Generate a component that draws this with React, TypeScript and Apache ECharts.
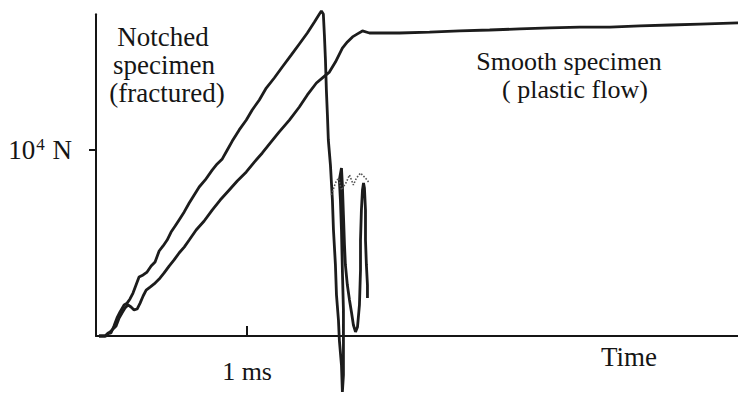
import React, { useEffect, useRef } from "react";
import * as echarts from "echarts";

// Time in ms, force in units of 10^4 N
const notchedTime = [
  0.02, 0.04, 0.06, 0.08, 0.099, 0.119, 0.139, 0.159, 0.186, 0.206, 0.225, 0.245, 0.265, 0.285,
  0.312, 0.338, 0.365, 0.391, 0.418, 0.444, 0.471, 0.497, 0.524, 0.55, 0.584, 0.617, 0.65, 0.683,
  0.723, 0.769, 0.802, 0.836, 0.869, 0.902, 0.948, 0.995, 1.034, 1.081, 1.127, 1.18, 1.233, 1.293,
  1.346, 1.399, 1.446, 1.479, 1.492, 1.505, 1.512, 1.519, 1.525, 1.532, 1.538, 1.552, 1.565, 1.572,
  1.585, 1.592, 1.605, 1.611, 1.625, 1.631, 1.638, 1.638, 1.638, 1.631, 1.625, 1.618, 1.611, 1.625,
  1.631, 1.638, 1.645, 1.651, 1.664, 1.678, 1.691, 1.704, 1.718, 1.731, 1.744, 1.751, 1.751, 1.757,
  1.764, 1.771, 1.777, 1.784, 1.784, 1.79, 1.797, 1.797,
];
const notchedForce = [
  0, 0, 0, 0.016, 0.016, 0.054, 0.097, 0.129, 0.167, 0.177, 0.199, 0.231, 0.274, 0.317,
  0.328, 0.344, 0.376, 0.398, 0.457, 0.484, 0.516, 0.559, 0.591, 0.624, 0.667, 0.715, 0.758, 0.801,
  0.839, 0.892, 0.925, 0.952, 1.0, 1.048, 1.108, 1.161, 1.215, 1.269, 1.333, 1.387, 1.446, 1.511,
  1.57, 1.629, 1.688, 1.731, 1.747, 1.731, 1.618, 1.484, 1.323, 1.188, 1.054, 0.919, 0.731, 0.57,
  0.382, 0.22, 0.086, -0.022, -0.156, -0.301, -0.21, -0.048, 0.14, 0.355, 0.57, 0.731, 0.839, 0.903,
  0.812, 0.651, 0.489, 0.382, 0.274, 0.194, 0.129, 0.059, 0.022, 0.048, 0.167, 0.355, 0.516, 0.677,
  0.785, 0.823, 0.796, 0.677, 0.516, 0.382, 0.274, 0.204,
];

const smoothTime = [
  0.02, 0.046, 0.066, 0.086, 0.106, 0.133, 0.153, 0.172, 0.192, 0.212, 0.232, 0.252, 0.272, 0.292,
  0.312, 0.332, 0.358, 0.385, 0.418, 0.451, 0.484, 0.517, 0.55, 0.584, 0.617, 0.663, 0.716, 0.769,
  0.822, 0.882, 0.935, 0.995, 1.048, 1.101, 1.154, 1.213, 1.28, 1.346, 1.399, 1.459, 1.505, 1.545,
  1.585, 1.631, 1.664, 1.698, 1.731, 1.764, 1.81, 1.857, 2.009, 2.208, 2.407, 2.606, 2.805, 3.004,
  3.203, 3.402, 3.601, 3.8, 3.999, 4.25,
];
const smoothForce = [
  0, 0, 0, 0.016, 0.032, 0.054, 0.097, 0.124, 0.151, 0.167, 0.156, 0.14, 0.145, 0.177,
  0.215, 0.247, 0.263, 0.28, 0.306, 0.339, 0.376, 0.409, 0.446, 0.478, 0.516, 0.57, 0.618, 0.677,
  0.731, 0.785, 0.833, 0.882, 0.935, 0.984, 1.038, 1.097, 1.161, 1.231, 1.296, 1.36, 1.392, 1.419,
  1.473, 1.548, 1.581, 1.608, 1.624, 1.64, 1.629, 1.629, 1.629, 1.634, 1.64, 1.645, 1.651, 1.656,
  1.661, 1.661, 1.667, 1.672, 1.677, 1.683,
];

// faint dotted trace during the post-fracture ringing
const ringTime = [1.558, 1.585, 1.605, 1.625, 1.658, 1.678, 1.704, 1.724, 1.751, 1.784, 1.804];
const ringForce = [0.758, 0.823, 0.849, 0.785, 0.828, 0.866, 0.812, 0.849, 0.876, 0.849, 0.828];

const xTickValues = [1];
const yTickValues = [1];
const xTickLabel = "1 ms";
const notchedNote = ["Notched", "specimen", "(fractured)"];
const smoothNote = ["Smooth specimen", "( plastic flow)"];
const xAxisName = "Time";

const FONT = "'Liberation Serif', 'Times New Roman', serif";
const INK = "#151515";

const zip = (a: number[], b: number[]) => a.map((v, i) => [v, b[i]]);

// centred text line: x = centre, y = vertical centre
const note = (text: string, x: number, y: number, size: number) => ({
  text,
  left: x,
  top: y - 13,
  textAlign: "center",
  padding: 0,
  itemGap: 0,
  textStyle: {
    fontFamily: FONT,
    fontSize: size,
    fontWeight: "normal",
    color: INK,
    lineHeight: 26,
  },
});

export default function App() {
  const ref = useRef<HTMLDivElement>(null);
  useEffect(() => {
    document.body.style.margin = "0";
    if (!ref.current) return;
    const chart = echarts.init(ref.current, null, { renderer: "svg" });
    chart.setOption({
      animation: false,
      backgroundColor: "#ffffff",
      title: [
        note(notchedNote[0], 163, 37, 27),
        note(notchedNote[1], 164, 65, 27),
        note(notchedNote[2], 167, 93, 27),
        note(smoothNote[0], 569, 61, 26),
        note(smoothNote[1], 575, 89, 26),
        note(xAxisName, 629, 357, 27),
      ],
      grid: {
        left: 96,
        right: 0,
        top: 14.2,
        bottom: 58,
        containLabel: false,
        outerBoundsMode: "none",
      },
      xAxis: {
        type: "value",
        min: 0,
        max: 4.25,
        axisLine: { show: true, onZero: false, lineStyle: { color: INK, width: 2 } },
        splitLine: { show: false },
        axisTick: {
          show: true,
          customValues: xTickValues,
          inside: true,
          length: 10,
          lineStyle: { color: INK, width: 2 },
        },
        axisLabel: {
          show: true,
          customValues: xTickValues,
          formatter: () => xTickLabel,
          margin: 22,
          fontSize: 26,
          fontFamily: FONT,
          color: INK,
        },
      },
      yAxis: {
        type: "value",
        min: 0,
        max: 1.73,
        axisLine: { show: true, onZero: false, lineStyle: { color: INK, width: 2 } },
        splitLine: { show: false },
        axisTick: {
          show: true,
          customValues: yTickValues,
          inside: false,
          length: 7,
          lineStyle: { color: INK, width: 2 },
        },
        axisLabel: {
          show: true,
          customValues: yTickValues,
          formatter: () => "{n|10}{s|4}{n| N}",
          margin: 24,
          rich: {
            n: { fontSize: 27, fontFamily: FONT, color: INK, verticalAlign: "bottom" },
            s: {
              fontSize: 17,
              fontFamily: FONT,
              color: INK,
              verticalAlign: "bottom",
              padding: [0, 1, 11, 1],
            },
          },
        },
      },
      series: [
        {
          name: "Notched specimen",
          type: "line",
          data: zip(notchedTime, notchedForce),
          showSymbol: false,
          symbol: "none",
          clip: false,
          lineStyle: { color: "#1c1c1c", width: 2.8 },
        },
        {
          name: "Smooth specimen",
          type: "line",
          data: zip(smoothTime, smoothForce),
          showSymbol: false,
          symbol: "none",
          clip: false,
          lineStyle: { color: "#1c1c1c", width: 2.8 },
        },
        {
          name: "Ringing trace",
          type: "line",
          data: zip(ringTime, ringForce),
          showSymbol: false,
          symbol: "none",
          clip: false,
          lineStyle: { color: "#555", width: 1.6, type: "dotted" },
        },
      ],
    });
    return () => chart.dispose();
  }, []);
  return <div ref={ref} style={{ width: 738, height: 394 }} />;
}
